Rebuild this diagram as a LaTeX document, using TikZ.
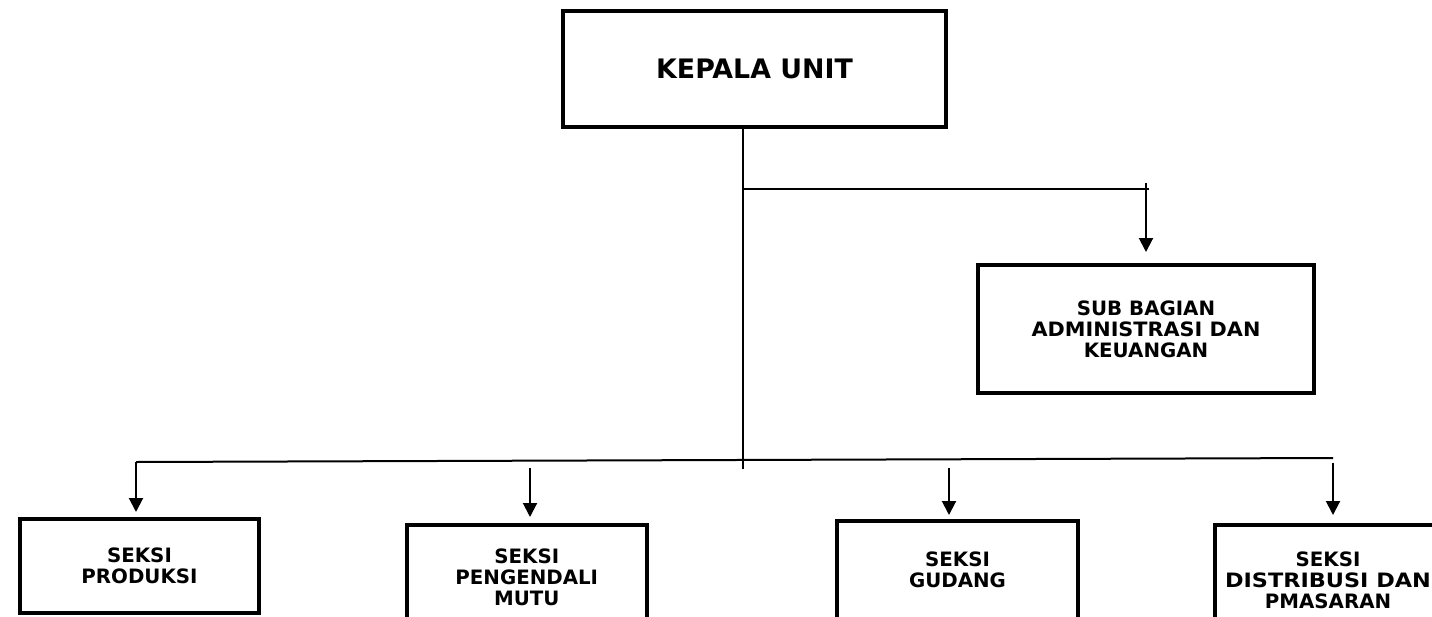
\documentclass[tikz,border=0pt]{standalone}
\usepackage{fontspec}
\usepackage{graphicx}
\setmainfont{DejaVu Sans}
\usetikzlibrary{arrows.meta}
\begin{document}
\begin{tikzpicture}[x=1pt, y=-1pt,
    box/.style={draw, line width=4pt, align=center, inner sep=0pt,
      font=\bfseries\fontsize{19.8}{21}\selectfont},
    link/.style={line width=2pt},
    arr/.style={link, -{Triangle[width=14pt,length=14pt]}}]
      \useasboundingbox (0,0) rectangle (1432,616);
      \clip (0,0) rectangle (1432,616);
      \node [box, minimum width=383pt, minimum height=116pt,
        font=\bfseries\fontsize{26.8}{30}\selectfont] (kepala) at (754.5,69) {KEPALA UNIT};
      \node [box, minimum width=336pt, minimum height=128pt] (sub) at (1146,329)
        {SUB BAGIAN\\\scalebox{1.05}[1]{ADMINISTRASI DAN}\\KEUANGAN};
      \node [box, minimum width=239pt, minimum height=94pt] (produksi) at (139.5,566)
        {SEKSI\\PRODUKSI};
      \node [box, minimum width=239.5pt, minimum height=105.5pt] (mutu) at (526.75,577.25)
        {SEKSI\\PENGENDALI\\MUTU};
      \node [box, minimum width=241pt, minimum height=98pt] (gudang) at (957.5,570)
        {SEKSI\\GUDANG};
      \node [box, minimum width=226pt, minimum height=110pt] (distribusi) at (1328,580)
        {SEKSI\\\scalebox{1.13}[1]{DISTRIBUSI DAN}\\PMASARAN};
      % trunk and upper branch
      \coordinate (trunk) at (743,469);
      \coordinate (branch) at (743,189);
      \coordinate (branchend) at (1149,189);
      \coordinate (subtop) at (1146,183);
      \draw [link] (kepala.south -| trunk) -- (trunk);
      \draw [link] (branch) -- (branchend);
      \draw [arr, shorten >=11pt] (subtop) -- (sub.north -| subtop);
      % lower bus
      \coordinate (busL) at (136,462);
      \coordinate (busR) at (1333,458);
      \coordinate (m2) at (530,468);
      \coordinate (g3) at (949,468);
      \coordinate (d4) at (1333,463);
      \draw [link] (busL) -- (busR);
      \draw [arr, shorten >=5pt] (busL) -- (produksi.north -| busL);
      \draw [arr, shorten >=5.5pt] (m2) -- (mutu.north -| m2);
      \draw [arr, shorten >=4pt] (g3) -- (gudang.north -| g3);
      \draw [arr, shorten >=8pt] (d4) -- (distribusi.north -| d4);
\end{tikzpicture}
\end{document}
